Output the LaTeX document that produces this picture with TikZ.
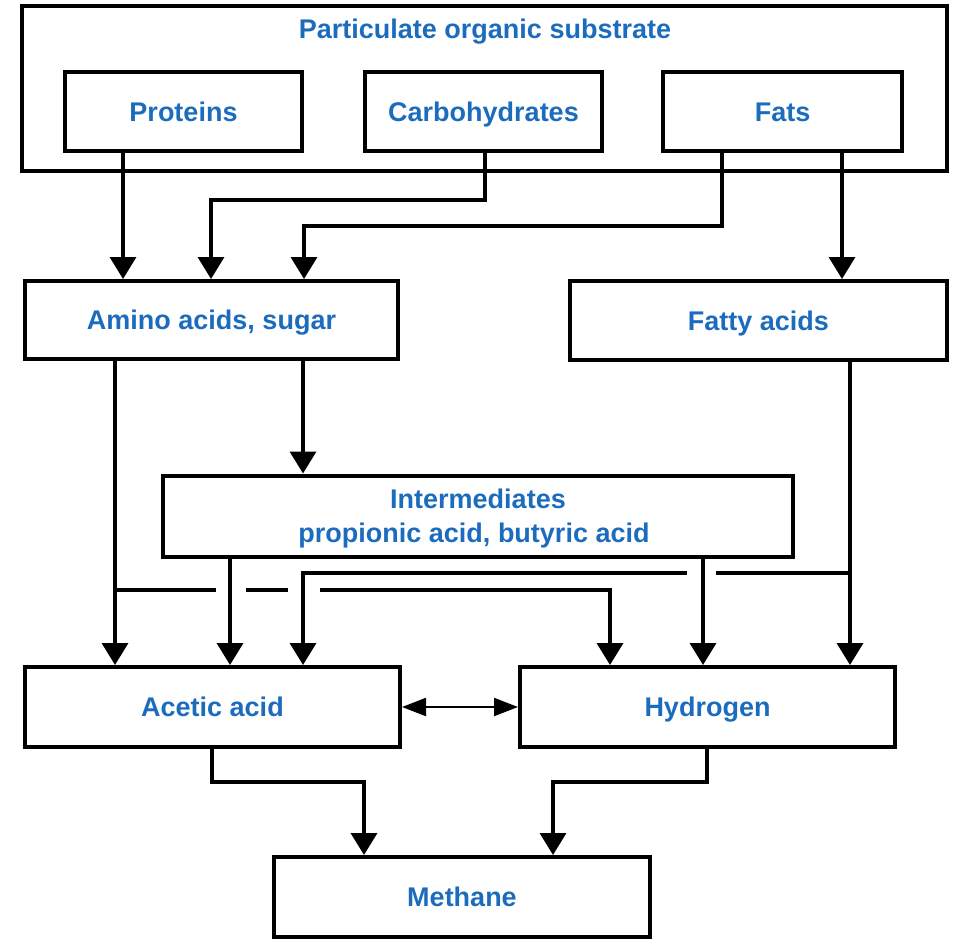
\documentclass[tikz,border=0pt]{standalone}
\usepackage{fontspec}
\setmainfont{Liberation Sans}
\usetikzlibrary{arrows.meta}
\definecolor{labelblue}{RGB}{28,108,190}
\begin{document}
\begin{tikzpicture}[x=1pt,y=-1pt,
  box/.style={draw, line width=4pt, rectangle, inner sep=0pt,
    font=\bfseries\fontsize{27}{34}\selectfont, text=labelblue,
    text height=19.3pt, text depth=0pt},
  boxtext/.style={inner sep=0pt, font=\bfseries\fontsize{27}{34}\selectfont,
    text=labelblue, text height=19.3pt, text depth=0pt},
  flow/.style={line width=3.5pt, -{Triangle[length=22pt,width=26pt]}},
  both/.style={line width=2.2pt,
    {Triangle[length=24pt,width=18pt]}-{Triangle[length=24pt,width=18pt]}},
  gap/.style={fill=white, draw=none}]

\useasboundingbox (0,0) rectangle (955,940);

% substrate group
\node[box, minimum width=925pt, minimum height=165pt] (substrate) at (484.5,88.5) {};
\node[boxtext] (title) at (485,29) {Particulate organic substrate};
\node[box, minimum width=237pt, minimum height=79pt] (proteins) at (183.5,111.5) {Proteins};
\node[box, minimum width=237pt, minimum height=79pt] (carbs) at (483.5,111.5) {Carbohydrates};
\node[box, minimum width=239pt, minimum height=79pt] (fats) at (782.5,111.5) {Fats};

% hydrolysis products
\node[box, minimum width=373pt, minimum height=78pt] (amino) at (211.5,320) {Amino acids, sugar};
\node[box, minimum width=377pt, minimum height=79pt] (fatty) at (758.5,320.5) {Fatty acids};

% intermediates
\node[box, minimum width=630pt, minimum height=81pt] (inter) at (478,516) {};
\node[boxtext] (interA) at (478,499) {Intermediates};
\node[boxtext] (interB) at (474,533) {propionic acid, butyric acid};

% acetogenesis products
\node[box, minimum width=375pt, minimum height=80pt] (acetic) at (212.5,707) {Acetic acid};
\node[box, minimum width=375pt, minimum height=80pt] (hydrogen) at (707.5,707) {Hydrogen};

% methane
\node[box, minimum width=376pt, minimum height=80pt] (methane) at (462,897) {Methane};

% hydrolysis
\draw[flow] (proteins.south -| 123,0) -- (amino.north -| 123,0);
\draw[flow] (carbs.south -| 485,0) |- (211,200) -- (amino.north -| 211,0);
\draw[flow] (fats.south -| 722,0) |- (304,226) -- (amino.north -| 304,0);
\draw[flow] (fats.south -| 842,0) -- (fatty.north -| 842,0);

% acidogenesis
\draw[flow] (amino.south -| 303,0) -- (inter.north -| 303,0);
\draw[flow] (amino.south -| 115,0) -- (acetic.north -| 115,0);
\coordinate (aminoTap) at (115,590);
\draw[flow] (aminoTap) -| (hydrogen.north -| 610,0);
\fill[gap] (216,585) rectangle (246,595);
\fill[gap] (288,585) rectangle (320,595);

% acetogenesis
\coordinate (fattyTap) at (850,573);
\draw[flow] (fattyTap) -| (acetic.north -| 303,0);
\draw[flow] (inter.south -| 230,0) -- (acetic.north -| 230,0);
\fill[gap] (687,568) rectangle (716,578);
\draw[flow] (inter.south -| 703,0) -- (hydrogen.north -| 703,0);
\draw[flow] (fatty.south -| 850,0) -- (hydrogen.north -| 850,0);

% exchange between acetic acid and hydrogen
\draw[both] (acetic.east) -- (hydrogen.west);

% methanogenesis
\draw[flow] (acetic.south -| 212,0) |- (364,782) -- (methane.north -| 364,0);
\draw[flow] (hydrogen.south -| 707,0) |- (553,782) -- (methane.north -| 553,0);
\end{tikzpicture}
\end{document}
